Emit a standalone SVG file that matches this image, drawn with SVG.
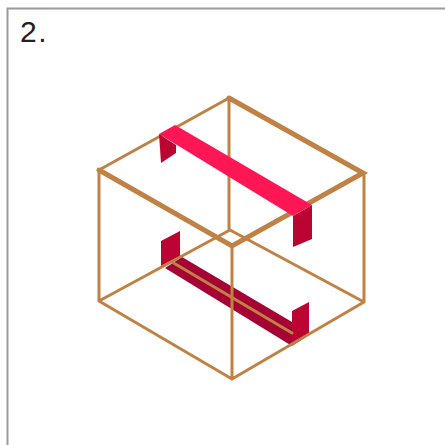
<svg xmlns="http://www.w3.org/2000/svg" width="445" height="445" viewBox="0 0 445 445">
<style>
.e{fill:none;stroke:#bf8144;stroke-width:3;stroke-linecap:round;stroke-linejoin:round}
.t{stroke-width:5;stroke-linejoin:miter}
.tab{fill:#bb0431}
</style>
<rect width="445" height="445" fill="#fff"/>
<path d="M7.500 445V8.500H445" fill="none" stroke="#999" stroke-width="2"/>
<text x="20" y="42" font-family="'Liberation Sans',Arial,sans-serif" font-size="30" letter-spacing="1.500" fill="#222">2.</text>
<g id="lower-band">
<polygon fill="#a60335" points="165,268 182,257 292,322 292,346"/>
<polygon class="tab" points="161,241 180,231 180,256 161,266"/>
<polygon class="tab" points="292,311 309,302 309,335 292,346"/>
</g>
<g id="connectors">
<path class="e" d="M229 98V230M99 301L230 230L364 302M99 301L232 379L364 302M99 170V301M364 173V302M232 246V379M99 170L229 98"/>
<path class="e" d="M172 262L292 333"/>
<path class="e t" d="M99 170L232 246L363 173L229 98"/>
</g>
<g id="upper-band">
<polygon class="tab" points="159,134 176,145 176,153 161,163"/>
<polygon class="tab" points="293,216 312,205 312,239 293,247"/>
<polygon fill="#ff1654" points="159,134 175,125 312,205 293,216"/>
</g>
</svg>
